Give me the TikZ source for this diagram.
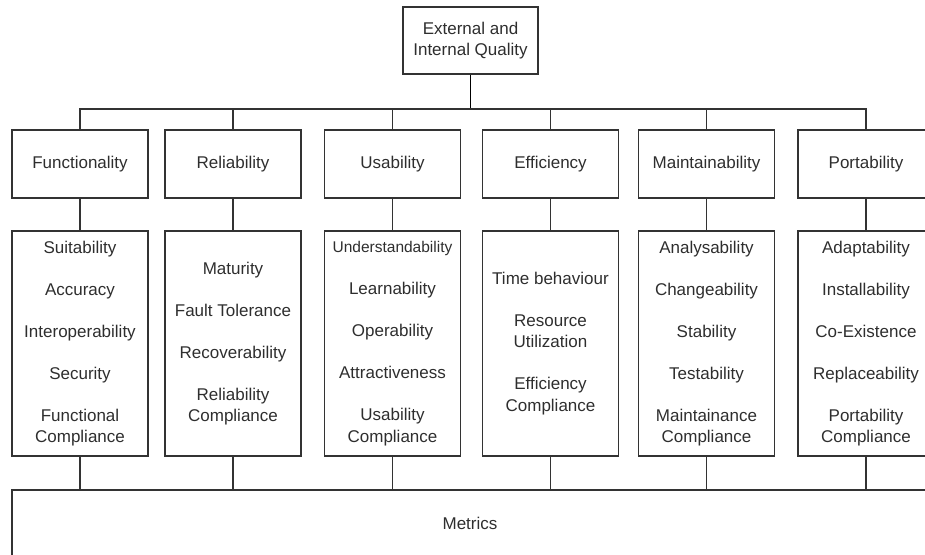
\documentclass[tikz,border=0pt]{standalone}
\usepackage{fontspec}
\setmainfont{Liberation Sans}
\definecolor{ln}{HTML}{333333}
\definecolor{tx}{HTML}{2E2E2E}
\newcommand\itemgap{\\[20.5pt]}
\begin{document}
\begin{tikzpicture}[x=1pt,y=-1pt,
  box/.style={draw=ln, line width=1.1pt, rectangle, inner sep=0pt, minimum width=136pt,
              align=center, text=tx, font=\fontsize{17}{21.5}\selectfont},
  head/.style={box, minimum height=68pt},
  list/.style={box, minimum height=225pt},
  link/.style={draw=ln, line width=1.1pt}]
\useasboundingbox (0,0) rectangle (925,554);
\clip (0,0) rectangle (925,554);

\node[box, minimum width=135pt, minimum height=67pt] (top) at (470.5,40.5) {External and\\Internal Quality};
\coordinate (bus) at (0,109);

\node[head] (h1) at (80,164) {Functionality};
\node[head] (h2) at (233,164) {Reliability};
\node[head] (h3) at (392.5,164) {Usability};
\node[head] (h4) at (550.5,164) {Efficiency};
\node[head] (h5) at (706.5,164) {Maintainability};
\node[head] (h6) at (866,164) {Portability};

\node[list] (l1) at (80,343.5) {Suitability\itemgap Accuracy\itemgap Interoperability\itemgap Security\itemgap Functional\\Compliance};
\node[list] (l2) at (233,343.5) {Maturity\itemgap Fault Tolerance\itemgap Recoverability\itemgap Reliability\\Compliance};
\node[list] (l3) at (392.5,343.5) {{\fontsize{15.5}{21.5}\selectfont Understandability}\itemgap Learnability\itemgap Operability\itemgap Attractiveness\itemgap Usability\\Compliance};
\node[list] (l4) at (550.5,343.5) {Time behaviour\itemgap Resource\\Utilization\itemgap Efficiency\\Compliance};
\node[list] (l5) at (706.5,343.5) {Analysability\itemgap Changeability\itemgap Stability\itemgap Testability\itemgap Maintainance\\Compliance};
\node[list] (l6) at (866,343.5) {Adaptability\itemgap Installability\itemgap Co-Existence\itemgap Replaceability\itemgap Portability\\Compliance};

\node[box, minimum width=916pt, minimum height=66pt] (met) at (470,523) {Metrics};

% top connector
\draw[line width=1.9pt, black] (top.south) -- (top.south |- bus);
\draw[link] (h1.north) -- (h1.north |- bus) -- (h6.north |- bus) -- (h6.north);
\foreach \i in {2,3,4,5} {
  \draw[link] (h\i.north) -- (h\i.north |- bus);
}
% head to list
\foreach \i in {1,...,6} {
  \draw[link] (h\i.south) -- (l\i.north);
  \draw[link] (l\i.south) -- (l\i.south |- met.north);
}
\end{tikzpicture}
\end{document}
